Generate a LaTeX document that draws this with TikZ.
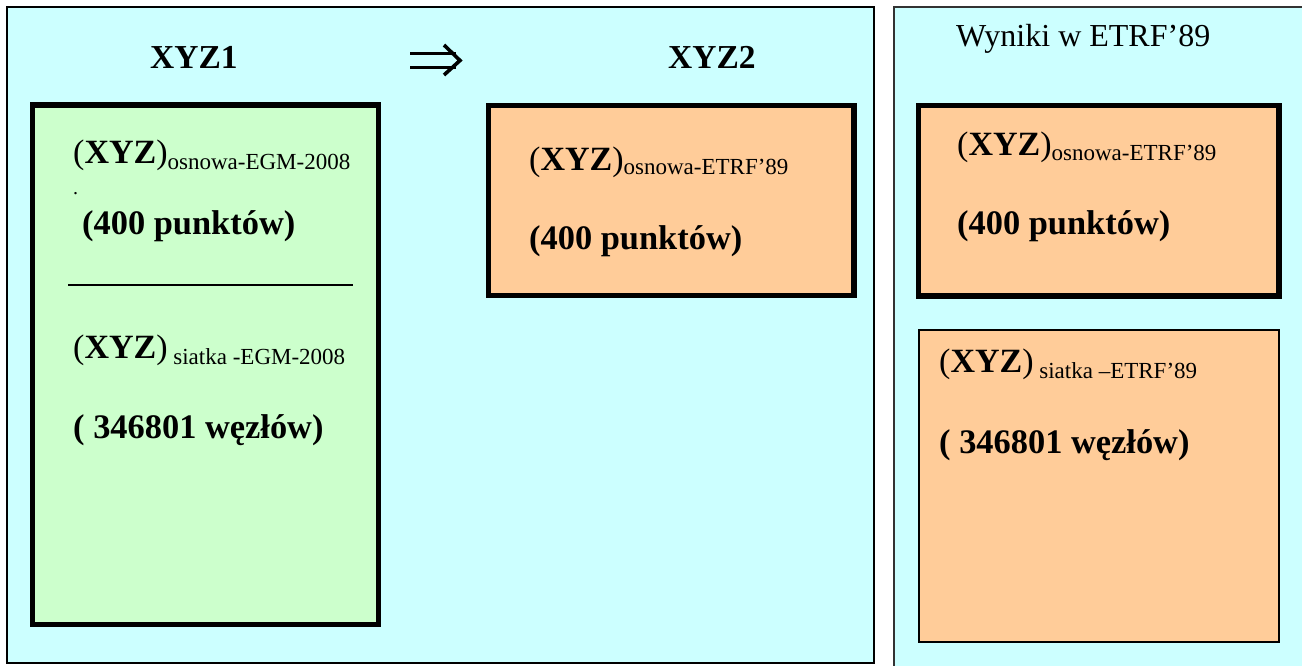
\documentclass[tikz,border=0pt]{standalone}
\usepackage{fontspec}
\setmainfont{Liberation Serif}
\definecolor{panelcyan}{HTML}{CCFFFF}
\definecolor{boxgreen}{HTML}{CCFFCC}
\definecolor{boxorange}{HTML}{FFCC99}
\newcommand{\fs}[1]{\fontsize{#1}{#1}\selectfont}
% (XYZ) with a lowered subscript label
\newcommand{\xyzsub}[2]{{\fs{34}(\textbf{XYZ})}\raisebox{-#2pt}{\fs{23}#1}}
\tikzset{
  panel/.style={draw=black, line width=1.5pt, fill=panelcyan},
  thickbox/.style={draw=black, line width=5.5pt, fill=#1},
  thinbox/.style={draw=black, line width=2pt, fill=#1},
  txt/.style={inner sep=0pt, anchor=base west},
  bigbold/.style={txt, font=\fs{34.4}\bfseries},
  implies/.style={line width=3.6pt, line cap=butt},
}
\begin{document}
\begin{tikzpicture}[x=1pt,y=-1pt]
\useasboundingbox (0,0) rectangle (1302,666);
\fill[white] (0,0) rectangle (1302,666);

% left panel: XYZ1 => XYZ2
\draw[panel] (7,7) rectangle (874,663);
\node[bigbold, font=\fs{33.5}\bfseries] (t1) at (150,69) {XYZ1};
\node[bigbold, font=\fs{33.5}\bfseries] (t2) at (668,69) {XYZ2};
% double arrow between the titles
\coordinate (a1) at (410,53.5);
\coordinate (a2) at (456,53.5);
\coordinate (b1) at (410,67.5);
\coordinate (b2) at (456,67.5);
\coordinate (hu) at (444,45);
\coordinate (ht) at (460,60.5);
\coordinate (hd) at (444,75);
\draw[implies] (a1) -- (a2);
\draw[implies] (b1) -- (b2);
\draw[implies, line join=miter] (hu) -- (ht) -- (hd);

% green input box
\draw[thickbox=boxgreen] (32.5,105) rectangle (378.5,624.5);
\node[txt] (g1) at (73,164) {\xyzsub{osnowa-EGM-2008}{6}};
\node[txt, font=\fs{20}] (gdot) at (73,195) {.};
\node[bigbold] (g2) at (82,234) {(400 punktów)};
\coordinate (sepl) at (68,285);
\coordinate (sepr) at (353,285);
\draw[line width=1.8pt] (sepl) -- (sepr);
\node[txt] (g3) at (73,358) {\xyzsub{\ siatka -EGM-2008}{6}};
\node[bigbold] (g4) at (73,438) {( 346801 węzłów)};

% orange XYZ2 box
\draw[thickbox=boxorange] (488.5,105.5) rectangle (854,295.5);
\node[txt] (o1) at (529,171) {\xyzsub{osnowa-ETRF’89}{3.5}};
\node[bigbold] (o2) at (529,249) {(400 punktów)};

% right panel: results
\draw[draw=black!80, line width=2pt, fill=panelcyan] (894,7) rectangle (1306,670);
\node[txt, font=\fs{32}] (res) at (956,47) {Wyniki w ETRF’89};

\draw[thickbox=boxorange] (918.5,105.5) rectangle (1279,295.8);
\node[txt] (r1) at (957,156) {\xyzsub{osnowa-ETRF’89}{5}};
\node[bigbold] (r2) at (957,234) {(400 punktów)};

\draw[thinbox=boxorange] (919,330) rectangle (1279,642);
\node[txt] (r3) at (939,372) {\xyzsub{\ siatka –ETRF’89}{6}};
\node[bigbold] (r4) at (939,453) {( 346801 węzłów)};
\end{tikzpicture}
\end{document}
